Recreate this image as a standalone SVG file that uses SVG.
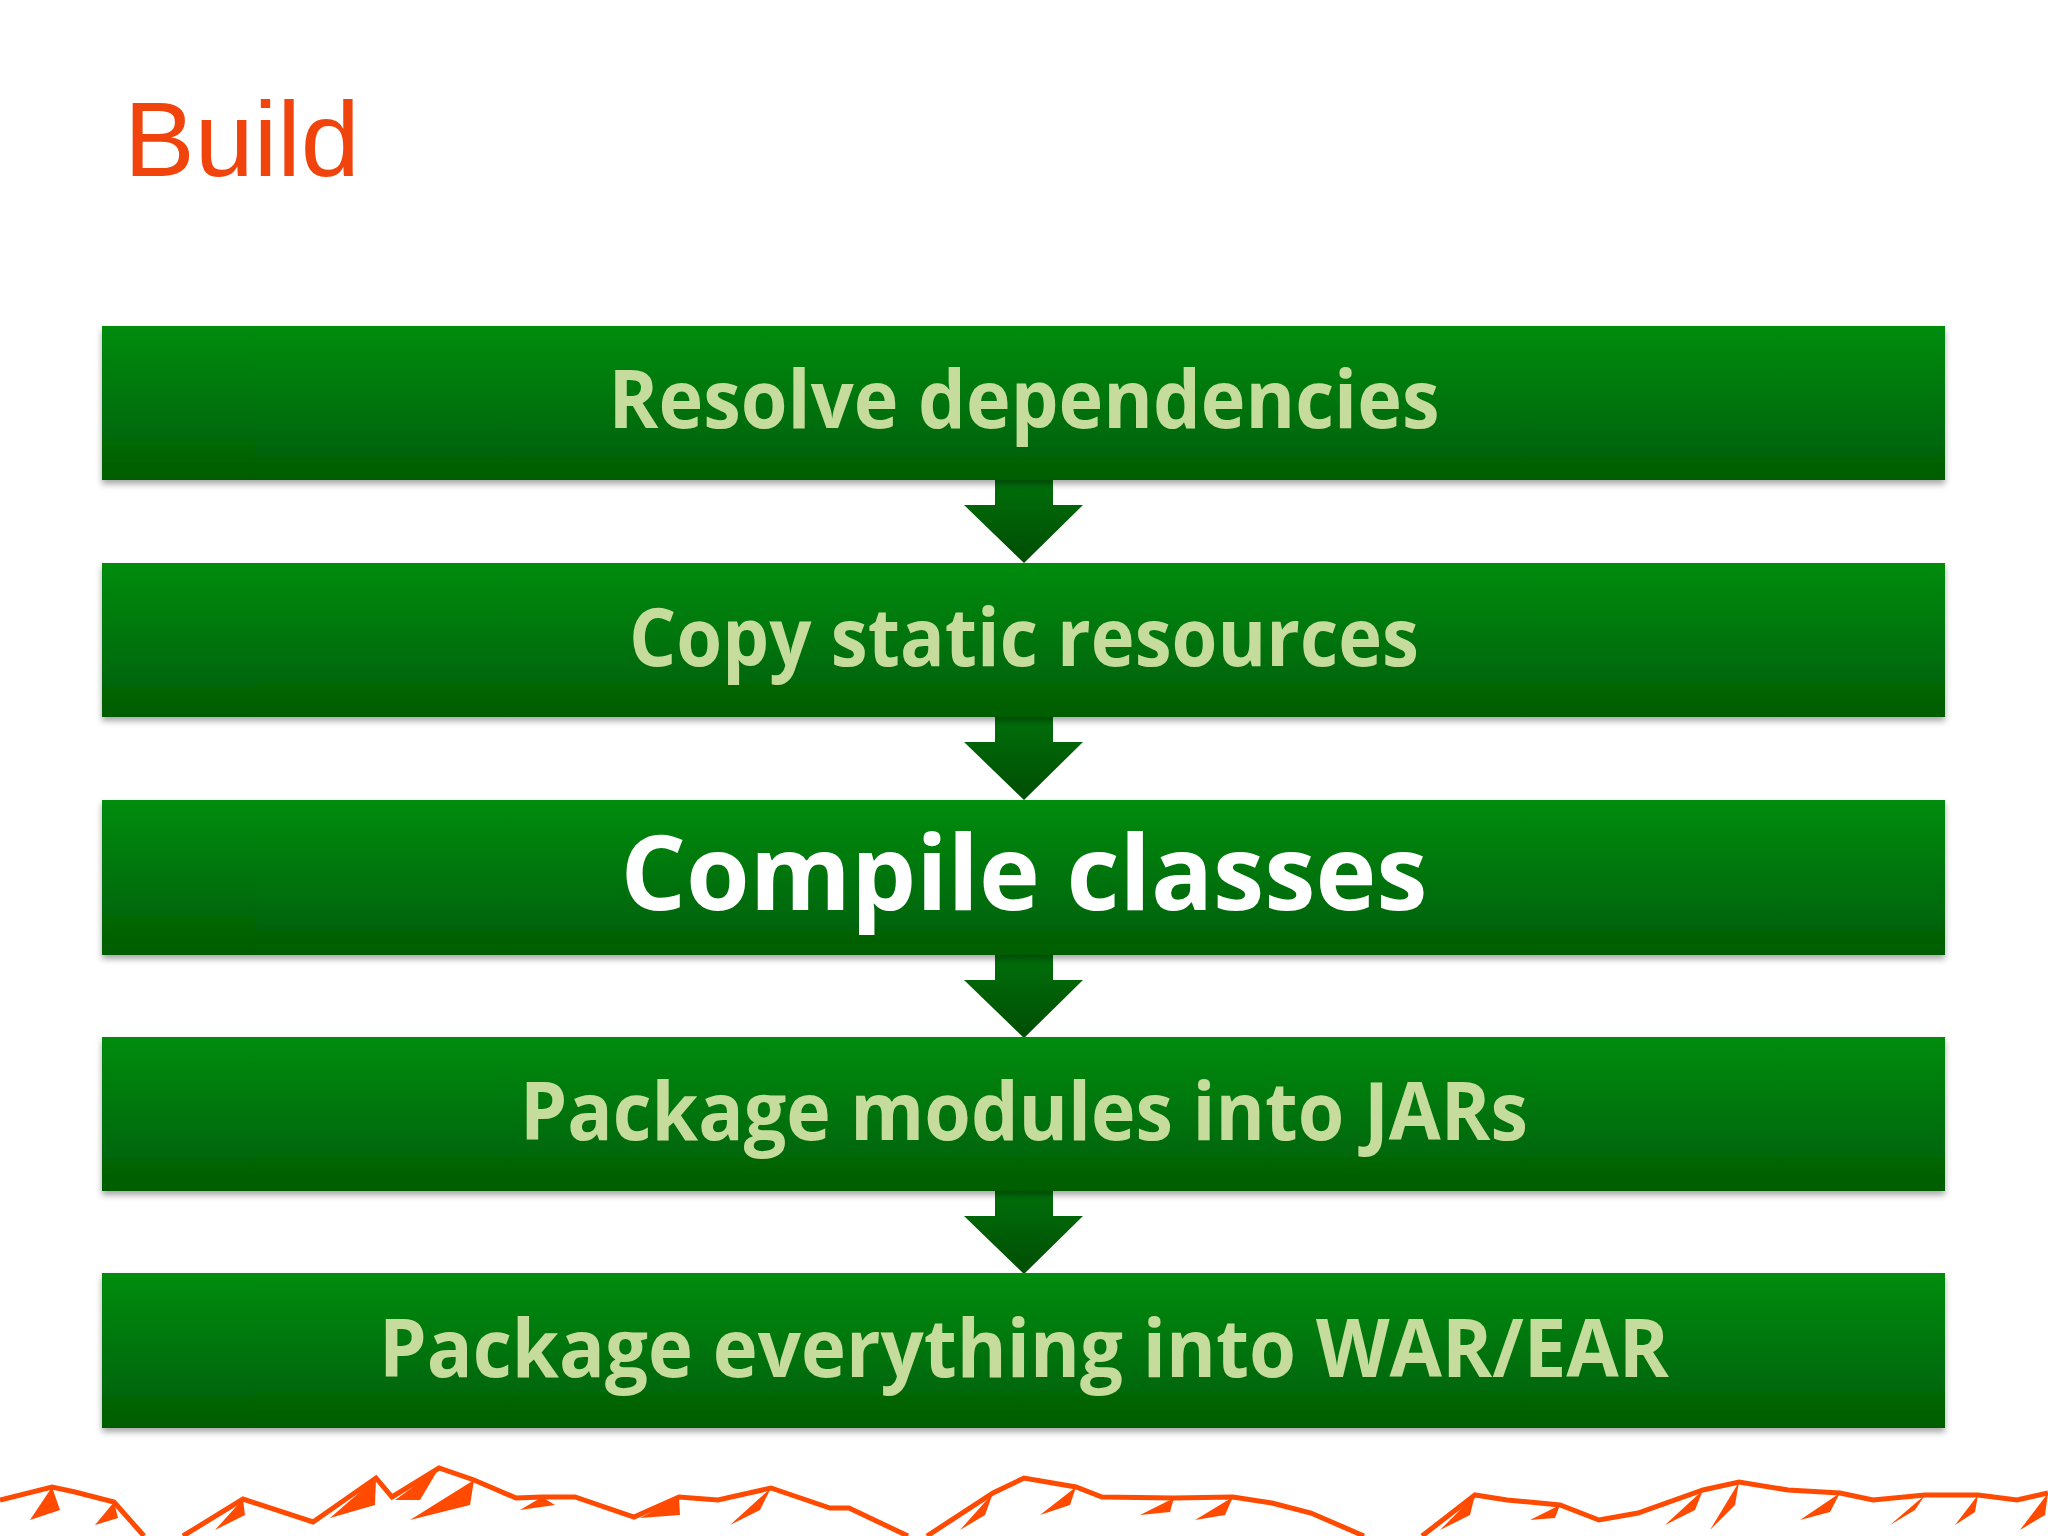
<svg xmlns="http://www.w3.org/2000/svg" width="2048" height="1536" viewBox="0 0 2048 1536">
<defs>
<linearGradient id="g" x1="0" y1="0" x2="0" y2="1">
<stop offset="0" stop-color="#008c0c"/><stop offset="1" stop-color="#005c05"/>
</linearGradient>
<linearGradient id="ga" x1="0" y1="0" x2="0" y2="1">
<stop offset="0" stop-color="#00700a"/><stop offset="1" stop-color="#004d04"/>
</linearGradient>
<filter id="sh" x="-2%" y="-10%" width="104%" height="130%">
<feDropShadow dx="0" dy="4" stdDeviation="3" flood-color="#000" flood-opacity="0.35"/>
</filter>
</defs>
<style>
.box{fill:url(#g);filter:url(#sh)}
.t{font-family:"Open Sans","Liberation Sans",sans-serif;font-weight:bold;text-anchor:middle;fill:#c6dc9c}
.arr{fill:url(#ga)}
.mt{fill:none;stroke:#ff4a00;stroke-width:5;stroke-linejoin:miter}
.mf{fill:#ff4a00}
</style>
<rect width="2048" height="1536" fill="#fff"/>
<text x="124" y="176" font-family="Liberation Sans, Arial, sans-serif" font-size="106" fill="#f0440c">Build</text>
<g id="connectors">
<polygon class="arr" points="995,478 1053,478 1053,505 1083,505 1024,563 964,505 995,505"/>
<polygon class="arr" points="995,715 1053,715 1053,742 1083,742 1024,800 964,742 995,742"/>
<polygon class="arr" points="995,953 1053,953 1053,980 1083,980 1024,1038 964,980 995,980"/>
<polygon class="arr" points="995,1189 1053,1189 1053,1216 1083,1216 1024,1274 964,1216 995,1216"/>
</g>
<g id="n1"><rect class="box" x="102" y="326" width="1843" height="154"/>
<text class="t" x="1024" y="428" font-size="80" textLength="831" lengthAdjust="spacingAndGlyphs">Resolve dependencies</text></g>
<g id="n2"><rect class="box" x="102" y="563" width="1843" height="154"/>
<text class="t" x="1024" y="666" font-size="80" textLength="790" lengthAdjust="spacingAndGlyphs">Copy static resources</text></g>
<g id="n3"><rect class="box" x="102" y="800" width="1843" height="155"/>
<text class="t" x="1024" y="910" font-size="104" fill="#ffffff" style="fill:#fff" textLength="807" lengthAdjust="spacingAndGlyphs">Compile classes</text></g>
<g id="n4"><rect class="box" x="102" y="1037" width="1843" height="154"/>
<text class="t" x="1024" y="1140" font-size="80" textLength="1008" lengthAdjust="spacingAndGlyphs">Package modules into JARs</text></g>
<g id="n5"><rect class="box" x="102" y="1273" width="1843" height="155"/>
<text class="t" x="1024" y="1377" font-size="80" textLength="1290" lengthAdjust="spacingAndGlyphs">Package everything into WAR/EAR</text></g>
<g id="mountains">
<polyline class="mt" points="0,1500 52,1487 75,1492 114,1502 144,1536"/>
<polyline class="mt" points="183,1536 243,1499 313,1522 376,1478 392,1497 439,1468 474,1480 516,1498 542,1497 575,1497 634,1517 679,1497 718,1500 771,1488 830,1508 849,1508 908,1536"/>
<polyline class="mt" points="927,1536 993,1493 1024,1478 1076,1487 1102,1497 1174,1498 1233,1497 1272,1503 1311,1513 1364,1536"/>
<polyline class="mt" points="1422,1536 1475,1495 1507,1500 1560,1505 1599,1520 1638,1513 1703,1490 1739,1482 1788,1490 1840,1493 1873,1500 1925,1495 1978,1495 2017,1500 2048,1493"/>
<polygon class="mf" points="52,1487 30,1520 60,1510"/>
<polygon class="mf" points="114,1502 95,1525 118,1518"/>
<polygon class="mf" points="243,1499 215,1530 245,1515"/>
<polygon class="mf" points="376,1478 330,1518 375,1505"/>
<polygon class="mf" points="439,1468 395,1500 420,1500"/>
<polygon class="mf" points="474,1480 410,1520 470,1505"/>
<polygon class="mf" points="542,1497 520,1510 555,1505"/>
<polygon class="mf" points="679,1497 640,1518 680,1515"/>
<polygon class="mf" points="771,1488 730,1525 760,1510"/>
<polygon class="mf" points="993,1493 960,1530 985,1515"/>
<polygon class="mf" points="1076,1487 1040,1515 1070,1505"/>
<polygon class="mf" points="1174,1498 1140,1515 1170,1512"/>
<polygon class="mf" points="1233,1497 1195,1520 1225,1515"/>
<polygon class="mf" points="1475,1495 1440,1530 1470,1515"/>
<polygon class="mf" points="1560,1505 1530,1520 1555,1518"/>
<polygon class="mf" points="1703,1490 1665,1525 1695,1510"/>
<polygon class="mf" points="1739,1482 1710,1530 1735,1505"/>
<polygon class="mf" points="1840,1493 1800,1520 1830,1512"/>
<polygon class="mf" points="1925,1495 1890,1525 1915,1510"/>
<polygon class="mf" points="1978,1495 1955,1525 1975,1512"/>
<polygon class="mf" points="2048,1493 2020,1530 2045,1515"/>
</g>
</svg>
